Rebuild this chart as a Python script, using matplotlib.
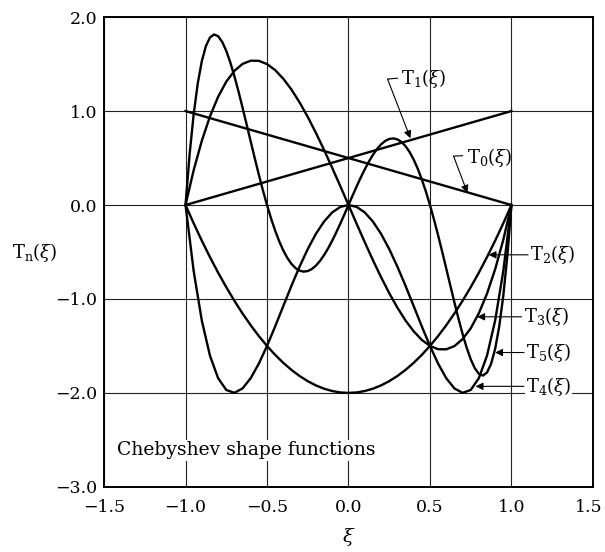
import matplotlib
matplotlib.use("Agg")
import matplotlib.pyplot as plt
import matplotlib.transforms as mtransforms

plt.rcParams['font.family'] = ['DejaVu Serif']
plt.rcParams['mathtext.fontset'] = 'dejavuserif'

# sample points along xi (every 0.05)
xi = [-1.00, -0.95, -0.90, -0.85, -0.80, -0.75, -0.70, -0.65, -0.60, -0.55,
      -0.50, -0.45, -0.40, -0.35, -0.30, -0.25, -0.20, -0.15, -0.10, -0.05,
      0.00, 0.05, 0.10, 0.15, 0.20, 0.25, 0.30, 0.35, 0.40, 0.45,
      0.50, 0.55, 0.60, 0.65, 0.70, 0.75, 0.80, 0.85, 0.90, 0.95, 1.00]

# T5 wiggles more, so it is read every 0.025
xi_fine = [-1.000, -0.975, -0.950, -0.925, -0.900, -0.875, -0.850, -0.825, -0.800, -0.775,
           -0.750, -0.725, -0.700, -0.675, -0.650, -0.625, -0.600, -0.575, -0.550, -0.525,
           -0.500, -0.475, -0.450, -0.425, -0.400, -0.375, -0.350, -0.325, -0.300, -0.275,
           -0.250, -0.225, -0.200, -0.175, -0.150, -0.125, -0.100, -0.075, -0.050, -0.025,
           0.000, 0.025, 0.050, 0.075, 0.100, 0.125, 0.150, 0.175, 0.200, 0.225,
           0.250, 0.275, 0.300, 0.325, 0.350, 0.375, 0.400, 0.425, 0.450, 0.475,
           0.500, 0.525, 0.550, 0.575, 0.600, 0.625, 0.650, 0.675, 0.700, 0.725,
           0.750, 0.775, 0.800, 0.825, 0.850, 0.875, 0.900, 0.925, 0.950, 0.975, 1.000]

xi_lin = [-1.0, 1.0]
T0 = [1.0, 0.0]
T1 = [0.0, 1.0]

T2 = [0.0, -0.195, -0.38, -0.555, -0.72, -0.875, -1.02, -1.155, -1.28, -1.395,
      -1.5, -1.595, -1.68, -1.755, -1.82, -1.875, -1.92, -1.955, -1.98, -1.995,
      -2.0, -1.995, -1.98, -1.955, -1.92, -1.875, -1.82, -1.755, -1.68, -1.595,
      -1.5, -1.395, -1.28, -1.155, -1.02, -0.875, -0.72, -0.555, -0.38, -0.195, 0.0]

T3 = [0.0, 0.371, 0.684, 0.944, 1.152, 1.313, 1.428, 1.502, 1.536, 1.535,
      1.5, 1.436, 1.344, 1.229, 1.092, 0.938, 0.768, 0.587, 0.396, 0.200,
      0.0, -0.200, -0.396, -0.587, -0.768, -0.938, -1.092, -1.229, -1.344, -1.436,
      -1.5, -1.535, -1.536, -1.502, -1.428, -1.313, -1.152, -0.944, -0.684, -0.371, 0.0]

T4 = [0.0, -0.704, -1.231, -1.604, -1.843, -1.969, -1.999, -1.952, -1.843, -1.688,
      -1.5, -1.292, -1.075, -0.860, -0.655, -0.469, -0.307, -0.176, -0.079, -0.020,
      0.0, -0.020, -0.079, -0.176, -0.307, -0.469, -0.655, -0.860, -1.075, -1.292,
      -1.5, -1.688, -1.843, -1.952, -1.999, -1.969, -1.843, -1.604, -1.231, -0.704, 0.0]

T5 = [0.0, 0.5397, 0.967, 1.2941, 1.532, 1.6919, 1.783, 1.8154, 1.797, 1.7364,
      1.641, 1.5167, 1.371, 1.2089, 1.036, 0.8569, 0.676, 0.4965, 0.322, 0.1559,
      0.0, -0.1435, -0.2727, -0.3865, -0.4838, -0.5640, -0.6265, -0.6715, -0.6989, -0.7092,
      -0.7031, -0.6814, -0.6451, -0.5954, -0.5337, -0.4614, -0.3802, -0.2916, -0.1975, -0.0997,
      0.0, 0.0997, 0.1975, 0.2916, 0.3802, 0.4614, 0.5337, 0.5954, 0.6451, 0.6814,
      0.7031, 0.7092, 0.6989, 0.6715, 0.6265, 0.5640, 0.4838, 0.3865, 0.2727, 0.1435,
      0.0, -0.1559, -0.322, -0.4965, -0.676, -0.8569, -1.036, -1.2089, -1.371, -1.5167,
      -1.641, -1.7364, -1.797, -1.8154, -1.783, -1.6919, -1.532, -1.2941, -0.967, -0.5397, 0.0]

fig = plt.figure(figsize=(6.05, 5.52), dpi=100)
ax = fig.add_axes([0.172, 0.118, 0.808, 0.851])

lw = 1.7
ax.plot(xi_lin, T0, color='black', lw=lw)
ax.plot(xi_lin, T1, color='black', lw=lw)
for T in [T2, T3, T4]:
    ax.plot(xi, T, color='black', lw=lw)
ax.plot(xi_fine, T5, color='black', lw=lw)

ax.set_xlim(-1.5, 1.5)
ax.set_ylim(-3.0, 2.0)
ax.set_xticks([-1.5, -1.0, -0.5, 0.0, 0.5, 1.0, 1.5])
ax.set_yticks([-3.0, -2.0, -1.0, 0.0, 1.0, 2.0])
ax.set_xticklabels(['\u22121.5', '\u22121.0', '\u22120.5', '0.0', '0.5', '1.0', '1.5'])
ax.set_yticklabels(['\u22123.0', '\u22122.0', '\u22121.0', '0.0', '1.0', '2.0'])
ax.tick_params(length=0, labelsize=12.5, colors='black')
ax.tick_params(axis='x', pad=9)
ax.tick_params(axis='y', pad=5)
ax.grid(True, color='#222222', lw=0.8)
ax.set_axisbelow(True)
for s in ax.spines.values():
    s.set_linewidth(1.4)
    s.set_color('black')

# nudge the last x label so it stays inside the picture
last = ax.get_xticklabels()[-1]
last.set_transform(last.get_transform() + mtransforms.ScaledTranslation(-4 / 100, 0, fig.dpi_scale_trans))

ax.text(0.5, -0.106, r'$\xi$', transform=ax.transAxes, ha='center', va='center', fontsize=14)
fig.text(0.058, 0.542, r'T$_{\rm n}$($\xi$)', ha='center', va='center', fontsize=13)

ax.text(-1.42, -2.61, 'Chebyshev shape functions', ha='left', va='center', fontsize=13.5,
        bbox=dict(facecolor='white', edgecolor='none', pad=1))

arrow = dict(arrowstyle='-|>', color='black', lw=0.8, mutation_scale=11, shrinkA=0, shrinkB=0)

# upper labels with bent leaders
ax.text(0.325, 1.35, r'T$_1$($\xi$)', ha='left', va='center', fontsize=13)
ax.plot([0.24, 0.30], [1.34, 1.35], color='black', lw=0.8)
ax.annotate('', xy=(0.38, 0.71), xytext=(0.24, 1.34), arrowprops=arrow)

ax.text(0.73, 0.51, r'T$_0$($\xi$)', ha='left', va='center', fontsize=13)
ax.plot([0.645, 0.70], [0.52, 0.525], color='black', lw=0.8)
ax.annotate('', xy=(0.73, 0.13), xytext=(0.645, 0.52), arrowprops=arrow)

# right-hand labels
right = [(r'T$_2$($\xi$)', 1.115, -0.53, 0.86),
         (r'T$_3$($\xi$)', 1.075, -1.19, 0.79),
         (r'T$_5$($\xi$)', 1.09, -1.57, 0.90),
         (r'T$_4$($\xi$)', 1.09, -1.93, 0.78)]
for lab, tx, ty, px in right:
    ax.annotate(lab, xy=(px, ty), xytext=(tx, ty), ha='left', va='center', fontsize=13,
                bbox=dict(facecolor='white', edgecolor='none', pad=0.5),
                arrowprops=dict(arrowstyle='-|>', color='black', lw=0.8, mutation_scale=11,
                                shrinkA=1, shrinkB=0))

fig.savefig('out.png', dpi=100)
